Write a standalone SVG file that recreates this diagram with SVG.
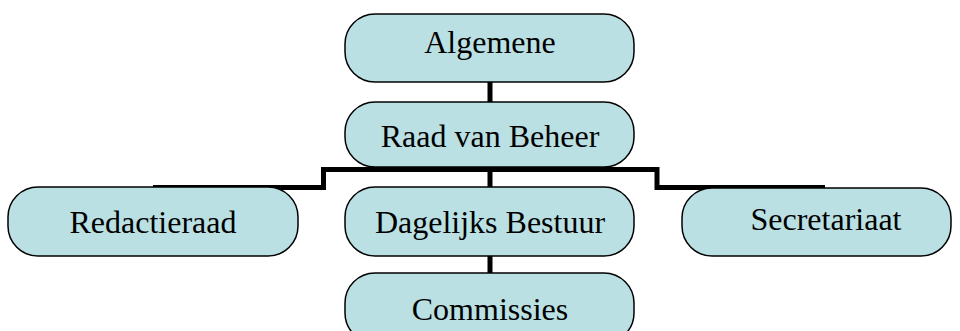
<svg xmlns="http://www.w3.org/2000/svg" width="960" height="331" viewBox="0 0 960 331">
<style>
.box{fill:#BAE0E4;stroke:#000;stroke-width:1.5}
.lbl{font-family:"Liberation Serif","Times New Roman",serif;font-size:32px;fill:#000;text-anchor:middle}
.con{fill:none;stroke:#000;stroke-width:5}
</style>
<rect width="960" height="331" fill="#fff"/>
<g id="connectors">
<line class="con" x1="490" y1="82" x2="490" y2="103"/>
<polyline class="con" points="153,187.5 323.5,187.5 323.5,169.5 657,169.5 657,187.5 825,187.5"/>
<line class="con" x1="490" y1="169.5" x2="490" y2="188"/>
<line class="con" x1="490" y1="255" x2="490" y2="274"/>
</g>
<g id="algemene">
<rect class="box" x="345" y="14" width="289" height="68" rx="30"/>
<text class="lbl" x="490" y="53">Algemene</text>
</g>
<g id="raad">
<rect class="box" x="345" y="102" width="289" height="65" rx="30"/>
<text class="lbl" x="490" y="147">Raad van Beheer</text>
</g>
<g id="redactieraad">
<rect class="box" x="8" y="187" width="290" height="69" rx="30"/>
<text class="lbl" x="153" y="233">Redactieraad</text>
</g>
<g id="dagelijks">
<rect class="box" x="345" y="187" width="289" height="69" rx="30"/>
<text class="lbl" x="490" y="233">Dagelijks Bestuur</text>
</g>
<g id="secretariaat">
<rect class="box" x="682" y="188" width="269" height="68" rx="30"/>
<text class="lbl" x="826" y="230">Secretariaat</text>
</g>
<g id="commissies">
<rect class="box" x="345" y="273" width="289" height="70" rx="30"/>
<text class="lbl" x="490" y="320">Commissies</text>
</g>
</svg>
